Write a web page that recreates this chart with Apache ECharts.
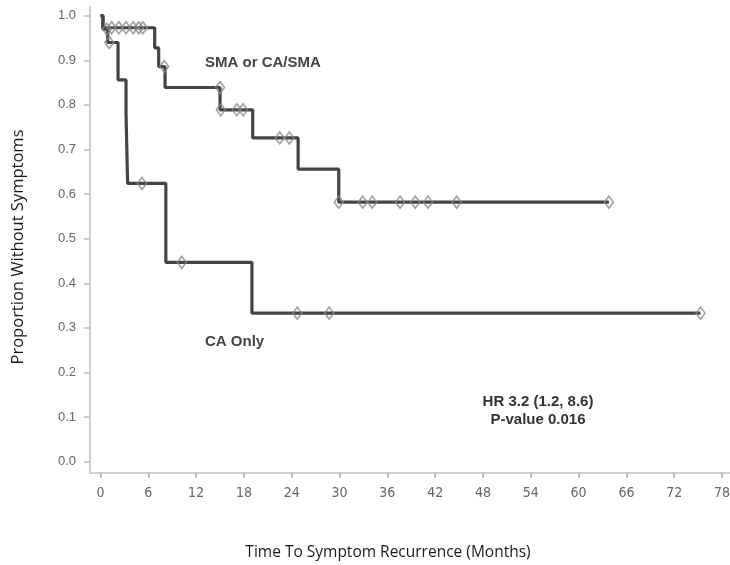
<!DOCTYPE html>
<html>
<head>
<meta charset="utf-8">
<script src="https://cdn.jsdelivr.net/npm/echarts@6/dist/echarts.min.js"></script>
<style>html,body{margin:0;padding:0;background:#fff}#c{width:730px;height:565px}</style>
</head>
<body>
<div id="c"></div>
<script>
// Kaplan-Meier step points: [time of change, survival after]
const smaTimes = [0, 0.3, 6.8, 7.3, 8.1, 15.0, 19.1, 24.8, 29.9, 63.8];
const smaSurv  = [1.0, 0.973, 0.928, 0.886, 0.839, 0.789, 0.726, 0.656, 0.582, 0.582];
const smaCensorTimes = [1.4, 2.3, 3.2, 4.1, 4.8, 5.3, 8.0, 15.0, 15.1, 17.1, 17.9, 22.5, 23.7, 29.9, 32.9, 34.1, 37.6, 39.5, 41.1, 44.7, 63.8];
const smaCensorSurv  = [0.973, 0.973, 0.973, 0.973, 0.973, 0.973, 0.886, 0.839, 0.789, 0.789, 0.789, 0.726, 0.726, 0.582, 0.582, 0.582, 0.582, 0.582, 0.582, 0.582, 0.582];

const caTimes = [0, 0.3, 0.9, 2.2, 3.2, 3.4, 8.2, 19.0, 75.3];
const caSurv  = [1.0, 0.97, 0.94, 0.856, 0.782, 0.624, 0.447, 0.333, 0.333];
const caCensorTimes = [0.8, 1.1, 5.2, 10.2, 24.7, 28.7, 75.3];
const caCensorSurv  = [0.97, 0.94, 0.624, 0.447, 0.333, 0.333, 0.333];

const xTicks = [0, 6, 12, 18, 24, 30, 36, 42, 48, 54, 60, 66, 72, 78];
const yTicks = [0, 0.1, 0.2, 0.3, 0.4, 0.5, 0.6, 0.7, 0.8, 0.9, 1.0];

const zip = (a, b) => a.map((v, i) => [v, b[i]]);

const lineStyle = { color: '#444444', width: 3.2 };
const markerStyle = { color: 'rgba(255,255,255,0)', borderColor: '#888888', borderWidth: 1.6 };

const chart = echarts.init(document.getElementById('c'));
chart.setOption({
  animation: false,
  backgroundColor: '#fff',
  grid: { left: 90, right: 0, top: 6.8, bottom: 92.3, containLabel: false, outerBoundsMode: 'none' },
  xAxis: {
    type: 'value', min: -1.32, max: 79,
    axisLine: { show: true, onZero: false, lineStyle: { color: '#cfcfcf', width: 2 } },
    axisTick: { show: true, customValues: xTicks, length: 5, lineStyle: { color: '#bdbdbd', width: 2 } },
    axisLabel: { customValues: xTicks, color: '#666', fontSize: 14, fontFamily: 'Liberation Sans Narrow, DejaVu Sans Condensed, sans-serif', margin: 14 },
    splitLine: { show: false }
  },
  yAxis: {
    type: 'value', min: -0.0247, max: 1.02,
    axisLine: { show: true, onZero: false, lineStyle: { color: '#cfcfcf', width: 2 } },
    axisTick: { show: true, customValues: yTicks, length: 6, lineStyle: { color: '#bdbdbd', width: 1.5 } },
    axisLabel: { customValues: yTicks, color: '#666', fontSize: 13, fontFamily: 'Liberation Sans, Arial, sans-serif', margin: 14,
      formatter: v => v.toFixed(1) },
    splitLine: { show: false }
  },
  series: [
    { type: 'line', step: 'end', data: zip(smaTimes, smaSurv), showSymbol: false, lineStyle: lineStyle, z: 2 },
    { type: 'line', step: 'end', data: zip(caTimes, caSurv), showSymbol: false, lineStyle: lineStyle, z: 2 },
    { type: 'scatter', data: zip(smaCensorTimes, smaCensorSurv), symbol: 'diamond', symbolSize: [9, 12], itemStyle: markerStyle, z: 3 },
    { type: 'scatter', data: zip(caCensorTimes, caCensorSurv), symbol: 'diamond', symbolSize: [9, 12], itemStyle: markerStyle, z: 3 }
  ],
  graphic: [
    { type: 'text', x: 388, y: 553, style: { text: 'Time To Symptom Recurrence (Months)', font: '15.5px Open Sans, sans-serif', fill: '#1a1a1a', align: 'center', verticalAlign: 'middle' } },
    { type: 'text', x: 18, y: 247, rotation: Math.PI / 2, style: { text: 'Proportion Without Symptoms', font: '16.5px Open Sans, sans-serif', fill: '#1a1a1a', align: 'center', verticalAlign: 'middle' } },
    { type: 'text', left: 205, top: 55, style: { text: 'SMA or CA/SMA', font: 'bold 15px Liberation Sans, Arial, sans-serif', fill: '#444' } },
    { type: 'text', left: 205, top: 334, style: { text: 'CA Only', font: 'bold 15px Liberation Sans, Arial, sans-serif', fill: '#444' } },
    { type: 'text', x: 538, y: 402, style: { text: 'HR 3.2 (1.2, 8.6)', font: 'bold 15px Liberation Sans, Arial, sans-serif', fill: '#333', align: 'center', verticalAlign: 'middle' } },
    { type: 'text', x: 538, y: 420, style: { text: 'P-value 0.016', font: 'bold 15px Liberation Sans, Arial, sans-serif', fill: '#333', align: 'center', verticalAlign: 'middle' } }
  ]
});
</script>
</body>
</html>
